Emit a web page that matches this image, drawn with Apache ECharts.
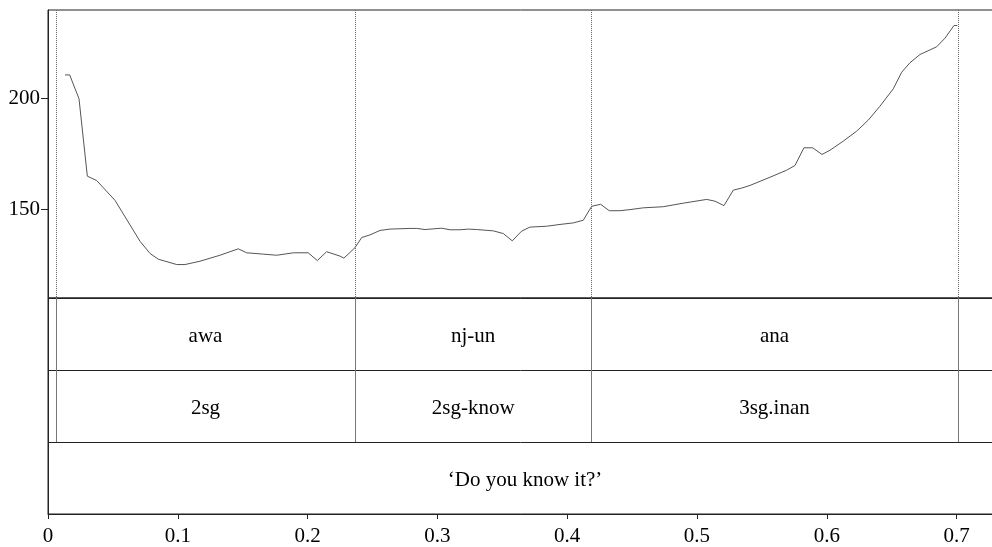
<!DOCTYPE html>
<html>
<head>
<meta charset="utf-8">
<script src="https://cdn.jsdelivr.net/npm/echarts@6/dist/echarts.min.js"></script>
<style>
  html, body { margin: 0; padding: 0; background: #fff; }
  #chart { width: 992px; height: 547px; }
</style>
</head>
<body>
<div id="chart"></div>
<script>
// pitch track (time in s, f0 in Hz)
const times = [0.0131, 0.0167, 0.0239, 0.0303, 0.0375, 0.0516, 0.0709, 0.0786, 0.0850, 0.0992,
  0.1055, 0.1171, 0.1325, 0.1466, 0.1531, 0.1659, 0.1762, 0.1890, 0.2005, 0.2075,
  0.2147, 0.2250, 0.2280, 0.2365, 0.2417, 0.2481, 0.2558, 0.2635, 0.2789, 0.2841,
  0.2904, 0.3033, 0.3097, 0.3174, 0.3238, 0.3303, 0.3431, 0.3508, 0.3577, 0.3649,
  0.3713, 0.3842, 0.3945, 0.4047, 0.4124, 0.4189, 0.4258, 0.4324, 0.4407, 0.4484,
  0.4586, 0.4740, 0.4894, 0.5075, 0.5139, 0.5208, 0.5280, 0.5344, 0.5408, 0.5562,
  0.5691, 0.5755, 0.5824, 0.5891, 0.5963, 0.6025, 0.6127, 0.6230, 0.6320, 0.6410,
  0.6512, 0.6577, 0.6641, 0.6718, 0.6847, 0.6911, 0.6980, 0.7005]
const f0 = [210.7, 210.7, 199.9, 165.0, 163.0, 154.1, 135.6, 130.1, 127.5, 125.1,
  125.1, 126.6, 129.3, 132.2, 130.4, 129.8, 129.3, 130.4, 130.4, 126.9,
  130.9, 128.9, 128.0, 132.7, 137.3, 138.5, 140.5, 141.1, 141.4, 141.4,
  140.9, 141.5, 140.8, 140.8, 141.1, 140.9, 140.3, 139.1, 135.8, 140.2,
  142.0, 142.4, 143.2, 143.9, 145.1, 151.4, 152.3, 149.4, 149.4, 149.9,
  150.7, 151.2, 152.8, 154.5, 153.7, 151.7, 158.7, 159.6, 160.8, 164.5,
  167.7, 169.8, 177.8, 177.8, 174.8, 176.7, 180.8, 185.3, 190.3, 196.6,
  204.4, 211.9, 216.2, 219.9, 223.4, 227.3, 233.0, 233.0]

// interval tiers
const boundaries = [0.0062, 0.2365, 0.4186, 0.7008]
const wordLabels = ['awa', 'nj-un', 'ana']
const glossLabels = ['2sg', '2sg-know', '3sg.inan']
const translation = '\u2018Do you know it?\u2019'
const tEnd = 0.735

const xTicks = [0, 0.1, 0.2, 0.3, 0.4, 0.5, 0.6, 0.7]
const yTicks = [150, 200]

const font = "'Liberation Serif', 'Times New Roman', serif"

const tierData = []
for (let i = 0; i < wordLabels.length; i++) {
  tierData.push([boundaries[i], boundaries[i + 1], 0, wordLabels[i]])
  tierData.push([boundaries[i], boundaries[i + 1], 1, glossLabels[i]])
}
tierData.push([0, tEnd, 2, translation])

const chart = echarts.init(document.getElementById('chart'))

const option = {
  animation: false,
  backgroundColor: '#fff',
  grid: [
    { left: 48, top: 10, width: 954, height: 288, show: true, borderColor: '#222', borderWidth: 1, outerBoundsMode: 'none', containLabel: false },
    { left: 48, top: 298, width: 954, height: 216, show: true, borderColor: '#222', borderWidth: 1, outerBoundsMode: 'none', containLabel: false }
  ],
  xAxis: [
    {
      type: 'value', gridIndex: 0, min: 0, max: tEnd,
      axisLine: { show: false, onZero: false }, axisTick: { show: false },
      axisLabel: { show: false }, splitLine: { show: false }
    },
    {
      type: 'value', gridIndex: 1, min: 0, max: tEnd, position: 'bottom',
      axisLine: { show: true, onZero: false, lineStyle: { color: '#222', width: 1 } },
      axisTick: { show: true, length: 5, customValues: xTicks, lineStyle: { color: '#222' } },
      axisLabel: {
        customValues: xTicks, margin: 12, color: '#000',
        fontFamily: font, fontSize: 21,
        formatter: v => String(v)
      },
      splitLine: { show: false }
    }
  ],
  yAxis: [
    {
      type: 'value', gridIndex: 0, min: 110, max: 240,
      axisLine: { show: true, onZero: false, lineStyle: { color: '#222', width: 1 } },
      axisTick: { show: true, length: 7, customValues: yTicks, lineStyle: { color: '#222' } },
      axisLabel: {
        customValues: yTicks, margin: 8, color: '#000',
        fontFamily: font, fontSize: 21
      },
      splitLine: { show: false }
    },
    {
      type: 'value', gridIndex: 1, min: 0, max: 3, interval: 1, inverse: true,
      axisLine: { show: true, onZero: false, lineStyle: { color: '#222', width: 1 } },
      axisTick: { show: false }, axisLabel: { show: false },
      splitLine: { show: true, lineStyle: { color: '#222', width: 1 } }
    }
  ],
  series: [
    {
      // dotted boundary lines across the pitch panel
      type: 'custom',
      xAxisIndex: 0, yAxisIndex: 0,
      silent: true,
      data: boundaries.map(b => [b]),
      renderItem: (params, api) => {
        const top = api.coord([api.value(0), 240])
        const bot = api.coord([api.value(0), 110])
        const x = Math.round(top[0]) + 0.5
        return {
          type: 'line',
          shape: { x1: x, y1: top[1], x2: x, y2: bot[1] },
          style: { stroke: '#666', lineWidth: 1, lineDash: [1, 1] }
        }
      }
    },
    {
      type: 'line',
      xAxisIndex: 0, yAxisIndex: 0,
      data: times.map((t, i) => [t, f0[i]]),
      showSymbol: false,
      lineStyle: { color: '#555', width: 1 }
    },
    {
      type: 'custom',
      xAxisIndex: 1, yAxisIndex: 1,
      clip: false,
      data: tierData,
      renderItem: (params, api) => {
        const s = api.value(0), e = api.value(1), row = api.value(2)
        const c = api.coord([(s + e) / 2, row + 0.5])
        const children = [{
          type: 'text',
          style: {
            x: c[0], y: c[1] + 2, text: tierData[params.dataIndex][3],
            fill: '#000', font: '21px ' + font,
            align: 'center', verticalAlign: 'middle'
          }
        }]
        if (row < 2) {
          ;[s, e].forEach(v => {
            const p0 = api.coord([v, row]), p1 = api.coord([v, row + 1])
            children.push({
              type: 'line',
              shape: { x1: Math.round(p0[0]) + 0.5, y1: p0[1], x2: Math.round(p0[0]) + 0.5, y2: p1[1] },
              style: { stroke: '#777', lineWidth: 1 }
            })
          })
        }
        return { type: 'group', children }
      }
    }
  ]
}

chart.setOption(option)
</script>
</body>
</html>
